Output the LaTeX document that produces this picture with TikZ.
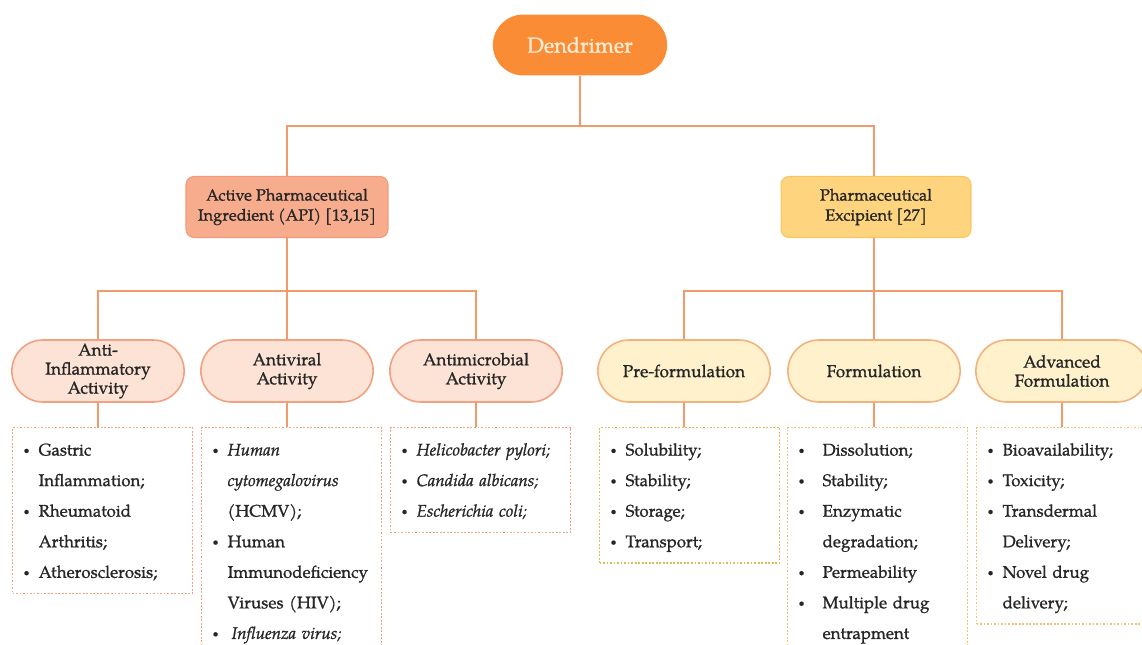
\documentclass[tikz,border=0pt]{standalone}
\usepackage{fontspec}
\setmainfont{TeX Gyre Pagella}[UprightFeatures={FakeBold=1}, ItalicFeatures={FakeBold=1}]
\usetikzlibrary{shapes.misc}
\definecolor{dendro}{HTML}{F98C34}
\definecolor{dendrotxt}{HTML}{FDEBD3}
\definecolor{linkc}{HTML}{F29A6A}
\definecolor{apifill}{HTML}{F8AC8E}
\definecolor{apidraw}{HTML}{F39A78}
\definecolor{excfill}{HTML}{FED47E}
\definecolor{excdraw}{HTML}{F7C660}
\definecolor{apipfill}{HTML}{FDE3D6}
\definecolor{apipdraw}{HTML}{F1A17F}
\definecolor{excpfill}{HTML}{FFF1CB}
\definecolor{excpdraw}{HTML}{F2B27E}
\definecolor{listl}{HTML}{F0A27E}
\definecolor{listpre}{HTML}{D9BE58}
\definecolor{listr}{HTML}{EFC27A}
\definecolor{txt}{HTML}{262626}
\newcommand{\lbul}[1][0.3cm]{\strut\makebox[#1][l]{\raisebox{0.25ex}{\fontsize{6}{6}\selectfont\textbullet}}}
\newcommand{\lind}[1][0.3cm]{\strut\hspace*{#1}}
\tikzset{
	link/.style={draw=linkc, line width=1.1pt},
	head/.style={rectangle, rounded corners=0.16cm, line width=0.6pt, align=center, text=txt,
		minimum height=1.22cm, font=\fontsize{9.3}{11.4}\selectfont},
	pill/.style={rounded rectangle, line width=0.9pt, align=center, text=txt, inner ysep=1pt,
		minimum width=3.68cm, minimum height=1.24cm, font=\fontsize{9.8}{10.8}\selectfont},
	apipill/.style={pill, fill=apipfill, draw=apipdraw},
	excpill/.style={pill, fill=excpfill, draw=excpdraw},
	listbox/.style={rectangle, dash pattern=on 1pt off 1pt, line width=0.7pt, anchor=north west, align=left, text=txt,
		inner xsep=0.22cm, inner ysep=0.13cm, text width=3.16cm, font=\fontsize{9.6}{17.4}\selectfont},
}
\begin{document}
\begin{tikzpicture}[x=0.02cm, y=-0.02cm]
	\useasboundingbox (0,0) rectangle (1142,645);
	\clip (0,0) rectangle (1142,645);
	\node[rounded rectangle, fill=dendro, text=dendrotxt, minimum width=3.72cm, minimum height=1.22cm,
		font=\fontsize{12.3}{14}\selectfont] at (580,45) (root) {Dendrimer};
	\node[head, fill=apifill, draw=apidraw, minimum width=4.04cm] at (287,207) (api) {Active Pharmaceutical\\Ingredient (API) [13,15]};
	\node[head, fill=excfill, draw=excdraw, minimum width=3.8cm] at (876,207) (exc) {Pharmaceutical\\Excipient [27]};
	\node[apipill] at (98,371) (antiinf) {Anti-\\Inflammatory\\Activity};
	\node[apipill] at (287,371) (antivir) {Antiviral\\Activity};
	\node[apipill] at (476,371) (antimic) {Antimicrobial\\Activity};
	\node[excpill] at (684,371) (preform) {Pre-formulation};
	\node[excpill] at (874,371) (formul) {Formulation};
	\node[excpill] at (1062,371) (advform) {Advanced\\Formulation};
	\node[listbox, draw=listl] at (12,427) (infl) {\lbul Gastric\\\lind Inflammation;\\\lbul Rheumatoid\\\lind Arthritis;\\\lbul Atherosclerosis;};
	\node[listbox, draw=listl] at (201,427) (viral) {\lbul\textit{Human}\\\lind\textit{cytomegalovirus}\\\lind(HCMV);\\\lbul Human\\\lind Immunodeficiency\\\lind Viruses (HIV);\\\lbul[0.38cm]\textit{Influenza virus;}\\\strut\\\strut};
	\node[listbox, draw=listl] at (390,427) (microb) {\lbul\textit{Helicobacter pylori;}\\\lbul\textit{Candida albicans;}\\\lbul\textit{Escherichia coli;}};
	\node[listbox, draw=listpre] at (599,427) (prelist) {\lbul Solubility;\\\lbul Stability;\\\lbul Storage;\\\lbul Transport;};
	\node[listbox, draw=listr] at (787,427) (formlist) {\lbul[0.48cm]Dissolution;\\\lbul[0.48cm]Stability;\\\lbul[0.48cm]Enzymatic\\\lind[0.48cm]degradation;\\\lbul[0.48cm]Permeability\\\lbul[0.48cm]Multiple drug\\\lind[0.48cm]entrapment\\\strut\\\strut};
	\node[listbox, draw=listr] at (976,427) (advlist) {\lbul Bioavailability;\\\lbul Toxicity;\\\lbul Transdermal\\\lind Delivery;\\\lbul Novel drug\\\lind delivery;};
	\coordinate (bar1) at (580,126);
	\coordinate (bar2) at (287,291);
	\coordinate (bar3) at (874,291);
	\draw[link] (root) -- (bar1);
	\draw[link] (api) |- (bar1) -| (exc.north -| bar3);
	\draw[link] (api) -- (bar2);
	\draw[link] (antiinf) |- (bar2) -| (antimic);
	\draw[link] (bar2) -- (antivir);
	\draw[link] (exc.south -| bar3) -- (bar3);
	\draw[link] (preform) |- (bar3) -| (advform);
	\draw[link] (bar3) -- (formul);
	\draw[link] (antiinf) -- (antiinf |- infl.north);
	\draw[link] (antivir) -- (antivir |- viral.north);
	\draw[link] (antimic) -- (antimic |- microb.north);
	\draw[link] (preform) -- (preform |- prelist.north);
	\draw[link] (formul) -- (formul |- formlist.north);
	\draw[link] (advform) -- (advform |- advlist.north);
\end{tikzpicture}
\end{document}
